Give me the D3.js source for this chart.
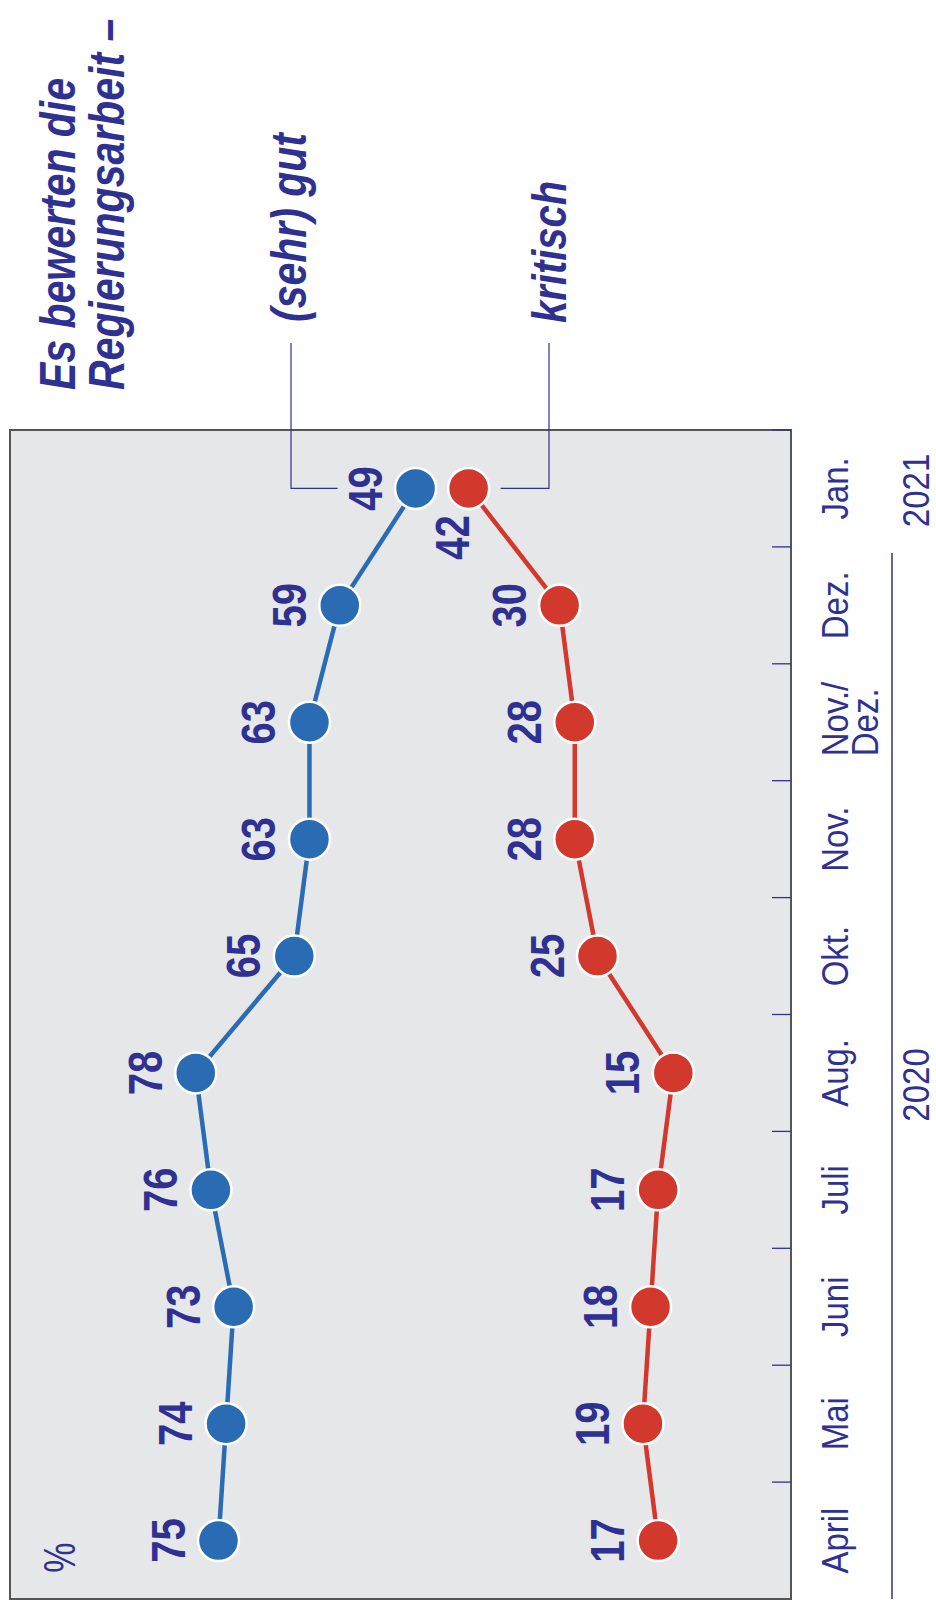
<!DOCTYPE html>
<html><head><meta charset="utf-8">
<script src="https://cdn.jsdelivr.net/npm/d3@7"></script>
<style>body{margin:0;background:#fff}svg{display:block}</style>
</head><body>
<script>
const categories = ["April","Mai","Juni","Juli","Aug.","Okt.","Nov.","Nov./|Dez.","Dez.","Jan."];
const gut = [75,74,73,76,78,65,63,63,59,49];
const kritisch = [17,19,18,17,15,25,28,28,30,42];
const seriesNames = ["(sehr) gut","kritisch"];
const titleLines = ["Es bewerten die","Regierungsarbeit –"];
const yearLabels = ["2020","2021"];

const W=936, H=1607;
const navy="#2e3192", blue="#2a6cb3", red="#d2382c";
const svg=d3.select("body").append("svg").attr("width",W).attr("height",H);

const plot={left:10,right:791,top:430,bottom:1599};
const y=d3.scaleBand().domain(categories.slice().reverse()).range([plot.top,plot.bottom]).padding(0);
const x=d3.scaleLinear().domain([0,100]).range([787,29]);
const yc=c=>y(c)+y.bandwidth()/2;

svg.append("rect").attr("x",plot.left).attr("y",plot.top).attr("width",plot.right-plot.left).attr("height",plot.bottom-plot.top)
  .attr("fill","#e6e7e9").attr("stroke","#555").attr("stroke-width",2);

// ticks (band boundaries)
const bounds=categories.map(c=>y(c));
svg.append("g").selectAll("line").data(bounds).join("line")
  .attr("x1",772).attr("x2",plot.right).attr("y1",d=>d).attr("y2",d=>d)
  .attr("stroke",navy).attr("stroke-width",1.3);

function rtext(sel,px,py,stretch){
  return sel.attr("transform",`translate(${px},${py}) rotate(-90) scale(1,${stretch})`);
}

// month labels
const ml=svg.append("g").attr("font-family","Liberation Sans, Arial, sans-serif").attr("font-size",33).attr("fill",navy);
categories.forEach(c=>{
  const parts=c.split("|");
  if(parts.length===1){
    rtext(ml.append("text").attr("text-anchor","middle").text(c),848,yc(c),1.1);
  } else {
    const top=yc(c)+34;
    rtext(ml.append("text").attr("text-anchor","start").text(parts[0]),848,top,1.1);
    rtext(ml.append("text").attr("text-anchor","start").text(parts[1]),878,top,1.1);
  }
});

// year labels & separator
const fy=y("Dez.")+6;
svg.append("line").attr("x1",892).attr("x2",892).attr("y1",fy).attr("y2",plot.bottom)
  .attr("stroke",navy).attr("stroke-width",1.5);
rtext(ml.append("text").attr("text-anchor","middle").text(yearLabels[1]),929,yc("Jan.")+2,1.1);
rtext(ml.append("text").attr("text-anchor","middle").text(yearLabels[0]),929,yc("Aug.")+12,1.1);

// lines
const line=d3.line().x(d=>x(d.v)).y(d=>yc(d.c));
const gData=categories.map((c,i)=>({c,v:gut[i]}));
const kData=categories.map((c,i)=>({c,v:kritisch[i]}));
[[gData,blue],[kData,red]].forEach(([data,col])=>{
  svg.append("path").datum(data).attr("d",line).attr("fill","none").attr("stroke",col).attr("stroke-width",4.5);
  svg.append("g").selectAll("circle").data(data).join("circle")
    .attr("cx",d=>x(d.v)).attr("cy",d=>yc(d.c)).attr("r",20.5)
    .attr("fill",col).attr("stroke","#fff").attr("stroke-width",2.5);
});

// value labels
const vl=svg.append("g").attr("font-family","Liberation Sans, Arial, sans-serif").attr("font-weight","bold").attr("font-size",40).attr("fill",navy);
gData.forEach(d=>rtext(vl.append("text").attr("text-anchor","middle").text(d.v),x(d.v)-34,yc(d.c),1.2));
kData.forEach((d,i)=>{
  if(i===kData.length-1) rtext(vl.append("text").attr("text-anchor","middle").text(d.v),x(d.v),yc(d.c)+49,1.2);
  else rtext(vl.append("text").attr("text-anchor","middle").text(d.v),x(d.v)-34,yc(d.c),1.2);
});

// % label
rtext(svg.append("text").attr("font-family","Liberation Sans, Arial, sans-serif").attr("font-size",34).attr("fill",navy)
  .attr("text-anchor","middle").text("%"),75,yc("April")+17,1.3);

// title
const tg=svg.append("g").attr("font-family","Liberation Sans, Arial, sans-serif").attr("font-weight","bold").attr("font-style","italic").attr("font-size",41).attr("fill",navy);
rtext(tg.append("text").text(titleLines[0]),75,390,1.2);
rtext(tg.append("text").text(titleLines[1]),124,390,1.2);

// series labels with leaders
const lastC=categories[categories.length-1];
rtext(tg.append("text").text(seriesNames[0]),306,322,1.2);
rtext(tg.append("text").attr("font-size",40).text(seriesNames[1]),566,323,1.2);
svg.append("path").attr("d",`M291,343 V${yc(lastC)} H${x(gut[gut.length-1])-78}`).attr("fill","none").attr("stroke",navy).attr("stroke-width",1.2);
svg.append("path").attr("d",`M549,343 V${yc(lastC)} H${x(kritisch[kritisch.length-1])+32}`).attr("fill","none").attr("stroke",navy).attr("stroke-width",1.2);
</script>
</body></html>
